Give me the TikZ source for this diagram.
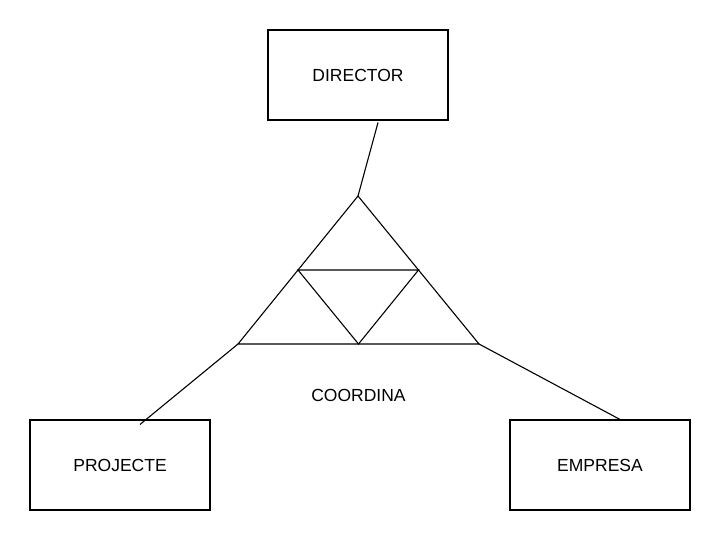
\documentclass[tikz,border=0pt]{standalone}
\usepackage{fontspec}
\setmainfont{Liberation Sans}
\usetikzlibrary{positioning,calc}

\begin{document}
\begin{tikzpicture}[
    x=1pt, y=-1pt,
    entity/.style={rectangle, draw, line width=1.1pt, minimum width=180pt, minimum height=90pt, font=\fontsize{17.5}{20}\selectfont},
    link/.style={line width=1.1pt},
    label/.style={font=\fontsize{17.5}{20}\selectfont}
]

\useasboundingbox (0,0) rectangle (722,542);

% Entities
\node[entity] (director) at (358,75) {DIRECTOR};
\node[entity] (projecte) at (120,465) {PROJECTE};
\node[entity] (empresa) at (600,465) {EMPRESA};

% Ternary relationship (triangle)
\coordinate (top) at (358,196);
\coordinate (left) at (238,344);
\coordinate (right) at (479,344);
\coordinate (midl) at ($(top)!0.5!(left)$);
\coordinate (midr) at ($(top)!0.5!(right)$);
\coordinate (midb) at ($(left)!0.5!(right)$);
\draw[link] (top) -- (left) -- (right) -- cycle;
\draw[link] (midl) -- (midr) -- (midb) -- cycle;

\node[label, below=42pt of midb] (coordina) {COORDINA};

% Connection points on the entities
\coordinate (dirlink) at ([xshift=20pt, yshift=-2pt]director.south);
\coordinate (prolink) at ([xshift=20pt, yshift=-5pt]projecte.north);
\coordinate (emplink) at ([xshift=20pt]empresa.north);

% Links
\draw[link] (dirlink) -- (top);
\draw[link] (prolink) -- (left);
\draw[link] (emplink) -- (right);

\end{tikzpicture}
\end{document}
